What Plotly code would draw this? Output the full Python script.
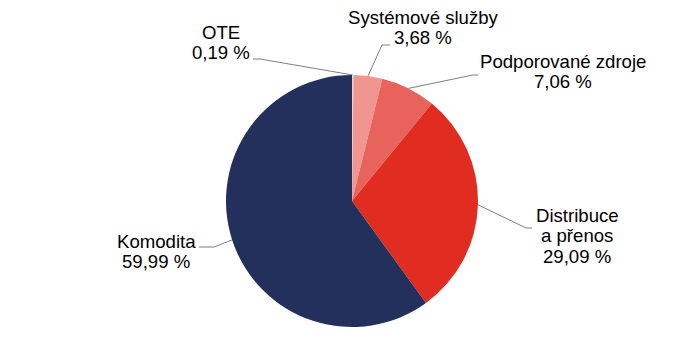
import math
import plotly.graph_objects as go

labels = ["OTE", "Systémové služby", "Podporované zdroje", "Distribuce a přenos", "Komodita"]
values = [0.19, 3.68, 7.06, 29.09, 59.99]
label_lines = [["OTE"], ["Systémové služby"], ["Podporované zdroje"], ["Distribuce", "a přenos"], ["Komodita"]]
value_text = ["0,19 %", "3,68 %", "7,06 %", "29,09 %", "59,99 %"]
colors = ["#f6cdc9", "#f0958f", "#e8635b", "#e02c21", "#22305b"]

W, H = 680, 340
CX, CY, R = 352, 201, 126

# label layout: (center x, first baseline y), leader elbow (x, y), leader end (x, y)
label_pos = [(221, 38), (423, 23), (563, 67), (577, 221), (156, 247)]
elbows = [(260, 59), (382, 45), (473, 75), (526, 228), (214, 247)]
ends = [(253, 59), (390, 45), (478, 75), (532, 228), (199, 247)]
LINE_H = 20.5
FONT = 18.6

fig = go.Figure()
fig.add_trace(go.Pie(
    labels=labels, values=values, sort=False, direction="clockwise", rotation=0,
    marker=dict(colors=colors, line=dict(width=0)), textinfo="none", hoverinfo="label+percent",
    showlegend=False,
    domain=dict(x=[(CX - R) / W, (CX + R) / W], y=[(H - CY - R) / H, (H - CY + R) / H]),
))

total = sum(values)
cum = 0
for i, v in enumerate(values):
    mid = (cum + v / 2) / total * 2 * math.pi
    cum += v
    ex = CX + R * math.sin(mid)
    ey = CY - R * math.cos(mid)
    fig.add_trace(go.Scatter(
        x=[ex, elbows[i][0], ends[i][0]], y=[ey, elbows[i][1], ends[i][1]],
        mode="lines", line=dict(color="#7f7f7f", width=1), hoverinfo="skip", showlegend=False,
    ))
    lx, ly = label_pos[i]
    for j, t in enumerate(label_lines[i] + [value_text[i]]):
        fig.add_annotation(x=lx, y=ly + j * LINE_H - 6, text=t, showarrow=False,
                           xanchor="center", yanchor="middle",
                           font=dict(family="Liberation Sans, Arial", size=FONT, color="#000000"))

fig.update_layout(
    width=W, height=H, margin=dict(l=0, r=0, t=0, b=0),
    paper_bgcolor="white", plot_bgcolor="rgba(0,0,0,0)",
    xaxis=dict(range=[0, W], visible=False, fixedrange=True),
    yaxis=dict(range=[H, 0], visible=False, fixedrange=True),
)
fig.write_html("out.html")
